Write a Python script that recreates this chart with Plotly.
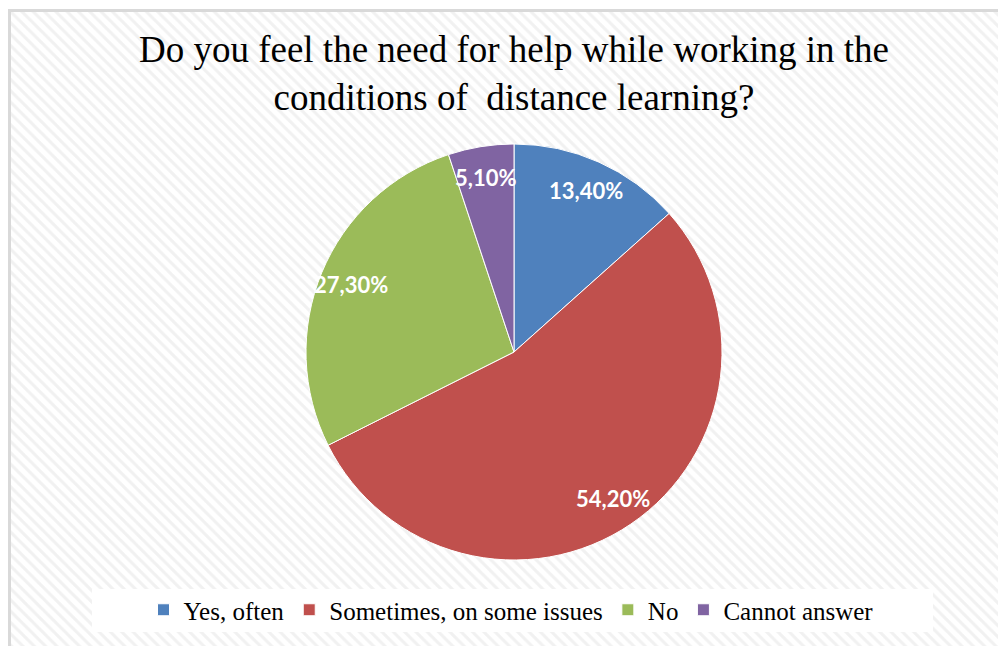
import math
import plotly.graph_objects as go

categories = ["Yes, often", "Sometimes, on some issues", "No", "Cannot answer"]
values = [13.4, 54.2, 27.3, 5.1]
colors = ["#4F81BD", "#C0504D", "#9BBB59", "#8064A2"]
title_text = "Do you feel the need for help while working in the<br>conditions of  distance learning?"

W, H = 1006, 646

# label positions: bisector of each slice (clockwise from top), at 85% of the radius
total = sum(values)
label_pos = []
acc = 0.0
for v in values:
    ang = math.radians((acc + v / 2) / total * 360)
    label_pos.append((0.85 * math.sin(ang), 0.85 * math.cos(ang)))
    acc += v
label_text = [f"{v:.2f}%".replace(".", ",") for v in values]

fig = go.Figure()

# hatched chart background
fig.add_trace(go.Scatter(
    x=[0, 1, 1, 0, 0], y=[0, 0, 1, 1, 0], mode="lines",
    fill="toself", line=dict(width=0),
    fillcolor="white",
    fillpattern=dict(shape="\\", fgcolor="#e3e3e3", bgcolor="white", size=8, solidity=0.38),
    hoverinfo="skip", showlegend=False,
))

cx, cy, r = 506, 344, 208
dom = dict(x=[(cx - r) / W, (cx + r) / W], y=[(H - cy - r) / H, (H - cy + r) / H])

fig.add_trace(go.Pie(
    labels=categories, values=values, sort=False, direction="clockwise", rotation=0,
    marker=dict(colors=colors, line=dict(color="white", width=1)),
    textinfo="none",
    domain=dom,
    showlegend=True,
))

annotations = [
    dict(x=px, y=py, xref="x2", yref="y2", text=t, showarrow=False,
         font=dict(family="Lato", size=22, color="white", weight="bold"))
    for (px, py), t in zip(label_pos, label_text)
]

fig.update_layout(
    width=W, height=H,
    margin=dict(l=0, r=0, t=0, b=0),
    paper_bgcolor="white", plot_bgcolor="rgba(0,0,0,0)",
    xaxis=dict(domain=[0, 1], range=[0, 1], visible=False, fixedrange=True),
    yaxis=dict(domain=[0, 1 - 1 / H], range=[0, 1], visible=False, fixedrange=True),
    xaxis2=dict(domain=dom["x"], range=[-1, 1], visible=False, fixedrange=True, anchor="y2"),
    yaxis2=dict(domain=dom["y"], range=[-1, 1], visible=False, fixedrange=True, anchor="x2"),
    title=dict(text=title_text, x=506 / W, xanchor="center", y=1 - 54 / H, yanchor="top",
               font=dict(family="Liberation Serif", size=37, color="black")),
    legend=dict(orientation="h", x=503 / W, xanchor="center", y=(H - 602) / H, yanchor="middle",
                bgcolor="rgba(0,0,0,0)", font=dict(family="Liberation Serif", size=25, color="black"),
                traceorder="normal"),
    annotations=annotations,
    shapes=[
        dict(type="rect", xref="paper", yref="paper", x0=1.5 / W, x1=1.02, y0=-0.02, y1=1 - 2.5 / H,
             line=dict(color="#d9d9d9", width=3), layer="above"),
        dict(type="rect", xref="paper", yref="paper", x0=84 / W, x1=925 / W,
             y0=(H - 624) / H, y1=(H - 581) / H, fillcolor="white", line=dict(width=0), layer="above"),
    ],
)

fig.write_html("out.html")
